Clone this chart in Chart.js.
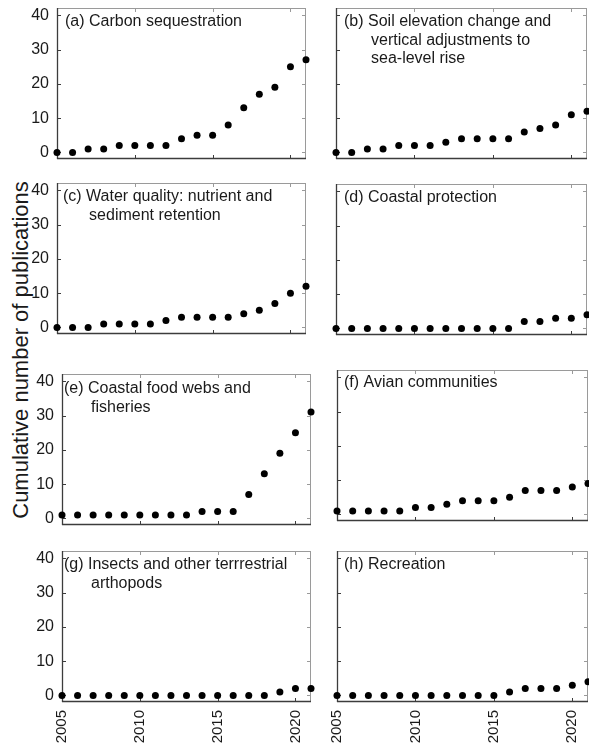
<!DOCTYPE html>
<html>
<head>
<meta charset="utf-8">
<script src="https://cdn.jsdelivr.net/npm/chart.js@4.4.1/dist/chart.umd.min.js"></script>
<style>
  html, body { margin: 0; padding: 0; background: #fff; width: 589px; height: 751px; overflow: hidden; }
  .panel { position: absolute; }
  #ytitle {
    position: absolute; left: 21px; top: 350px;
    transform: translate(-50%, -50%) rotate(-90deg);
    font: 22px "Liberation Sans", Arial, sans-serif; color: #1a1a1a;
    white-space: nowrap; line-height: 1;
  }
</style>
</head>
<body>
<div id="ytitle">Cumulative number of publications</div>
<script>
// data
const years = [2005, 2006, 2007, 2008, 2009, 2010, 2011, 2012, 2013, 2014, 2015, 2016, 2017, 2018, 2019, 2020, 2021];
const yearTicks = [2005, 2010, 2015, 2020];
const countTicks = [0, 10, 20, 30, 40];

const carbon     = [0, 0, 1, 1, 2, 2, 2, 2, 4, 5, 5, 8, 13, 17, 19, 25, 27];
const soil       = [0, 0, 1, 1, 2, 2, 2, 3, 4, 4, 4, 4, 6, 7, 8, 11, 12];
const water      = [0, 0, 0, 1, 1, 1, 1, 2, 3, 3, 3, 3, 4, 5, 7, 10, 12];
const protection = [0, 0, 0, 0, 0, 0, 0, 0, 0, 0, 0, 0, 2, 2, 3, 3, 4];
const foodWebs   = [1, 1, 1, 1, 1, 1, 1, 1, 1, 2, 2, 2, 7, 13, 19, 25, 31];
const avian      = [1, 1, 1, 1, 1, 2, 2, 3, 4, 4, 4, 5, 7, 7, 7, 8, 9];
const insects    = [0, 0, 0, 0, 0, 0, 0, 0, 0, 0, 0, 0, 0, 0, 1, 2, 2];
const recreation = [0, 0, 0, 0, 0, 0, 0, 0, 0, 0, 0, 1, 2, 2, 2, 3, 4];

const titleA = ['(a) Carbon sequestration'];
const titleB = ['(b) Soil elevation change and', 'vertical adjustments to', 'sea-level rise'];
const titleC = ['(c) Water quality: nutrient and', 'sediment retention'];
const titleD = ['(d) Coastal protection'];
const titleE = ['(e) Coastal food webs and', 'fisheries'];
const titleF = ['(f) Avian communities'];
const titleG = ['(g) Insects and other terrrestrial', 'arthopods'];
const titleH = ['(h) Recreation'];

const FONT = '"Liberation Sans", Arial, sans-serif';
const PAD = 6;
const AXW = 30;   // room for y tick labels (left column)
const AXH = 44;   // room for rotated year labels (bottom row)
const PH = 151;   // plot height

// layout of the panels
const panels = [
  { values: carbon,     title: titleA, left: 57,  top: 8,   width: 249, tx: 8, ty: 14, yLab: true,  xLab: false },
  { values: soil,       title: titleB, left: 336, top: 8,   width: 251, tx: 8, ty: 14, yLab: false, xLab: false },
  { values: water,      title: titleC, left: 57,  top: 183, width: 249, tx: 6, ty: 14, yLab: true,  xLab: false },
  { values: protection, title: titleD, left: 336, top: 184, width: 251, tx: 8, ty: 14, yLab: false, xLab: false },
  { values: foodWebs,   title: titleE, left: 62,  top: 374, width: 249, tx: 2, ty: 15, yLab: true,  xLab: false },
  { values: avian,      title: titleF, left: 337, top: 370, width: 251, tx: 7, ty: 13, yLab: false, xLab: false },
  { values: insects,    title: titleG, left: 62,  top: 551, width: 249, tx: 2, ty: 14, yLab: true,  xLab: true },
  { values: recreation, title: titleH, left: 337, top: 551, width: 251, tx: 7, ty: 14, yLab: false, xLab: true }
];

// box, inward ticks and panel label
const framePlugin = {
  id: 'frame',
  beforeDatasetsDraw(chart, args, opts) {
    const { ctx, chartArea: a, scales: { x, y } } = chart;
    ctx.save();
    ctx.lineWidth = 1;

    ctx.strokeStyle = '#9a9a9a';
    ctx.beginPath();
    ctx.moveTo(a.left, a.top + 0.5); ctx.lineTo(a.right, a.top + 0.5);
    ctx.moveTo(a.right - 0.5, a.top); ctx.lineTo(a.right - 0.5, a.bottom);
    countTicks.forEach(v => {
      const py = Math.round(y.getPixelForValue(v)) + 0.5;
      ctx.moveTo(a.right, py); ctx.lineTo(a.right - 4, py);
    });
    yearTicks.forEach(v => {
      const px = Math.round(x.getPixelForValue(v)) + 0.5;
      ctx.moveTo(px, a.top); ctx.lineTo(px, a.top + 4);
    });
    ctx.stroke();

    ctx.strokeStyle = '#3c3c3c';
    ctx.lineWidth = 1.3;
    ctx.beginPath();
    ctx.moveTo(a.left + 0.5, a.top); ctx.lineTo(a.left + 0.5, a.bottom);
    ctx.moveTo(a.left, a.bottom - 0.5); ctx.lineTo(a.right, a.bottom - 0.5);
    ctx.stroke();
    ctx.lineWidth = 1;
    ctx.beginPath();
    countTicks.forEach(v => {
      const py = Math.round(y.getPixelForValue(v)) + 0.5;
      ctx.moveTo(a.left, py); ctx.lineTo(a.left + 4, py);
    });
    yearTicks.forEach(v => {
      const px = Math.round(x.getPixelForValue(v)) + 0.5;
      ctx.moveTo(px, a.bottom); ctx.lineTo(px, a.bottom - 4);
    });
    ctx.stroke();

    // panel label
    ctx.fillStyle = '#1a1a1a';
    ctx.font = '16px ' + FONT;
    ctx.textBaseline = 'middle';
    ctx.textAlign = 'left';
    const lines = opts.lines;
    const prefix = lines[0].slice(0, lines[0].indexOf(')') + 2);
    const indent = ctx.measureText(prefix).width + 3;
    lines.forEach((t, i) => {
      ctx.fillText(t, a.left + opts.tx + (i ? indent : 0), a.top + opts.ty + i * 18.3);
    });
    ctx.restore();
  }
};

// no extra room for labels hanging past the plot edges
function noPadding(s) {
  s.paddingTop = 0;
  s.paddingBottom = 0;
  s.paddingLeft = 0;
  s.paddingRight = 0;
}

panels.forEach(p => {
  const axW = p.yLab ? AXW : 0;
  const axH = p.xLab ? AXH : 0;
  const div = document.createElement('div');
  div.className = 'panel';
  div.style.left = (p.left - axW - PAD) + 'px';
  div.style.top = (p.top - PAD) + 'px';
  const canvas = document.createElement('canvas');
  canvas.width = p.width + axW + 2 * PAD;
  canvas.height = PH + axH + 2 * PAD;
  div.appendChild(canvas);
  document.body.appendChild(div);

  new Chart(canvas, {
    type: 'scatter',
    data: {
      datasets: [{
        data: years.map((yr, i) => ({ x: yr, y: p.values[i] })),
        backgroundColor: '#000',
        borderColor: '#000',
        borderWidth: 0,
        pointRadius: 3.5,
        pointHoverRadius: 3.5,
        clip: false
      }]
    },
    options: {
      responsive: false,
      animation: false,
      events: [],
      layout: { padding: PAD },
      plugins: {
        legend: { display: false },
        tooltip: { enabled: false },
        frame: { lines: p.title, tx: p.tx, ty: p.ty }
      },
      scales: {
        x: {
          type: 'linear',
          min: 2005,
          max: 2021,
          grid: { display: false, drawTicks: false },
          border: { display: false },
          afterBuildTicks: s => { s.ticks = yearTicks.map(v => ({ value: v })); },
          afterFit: s => { s.height = axH; noPadding(s); },
          ticks: {
            display: p.xLab,
            minRotation: 90,
            maxRotation: 90,
            padding: 8,
            color: '#1a1a1a',
            font: { size: 15, family: FONT },
            callback: v => String(v)
          }
        },
        y: {
          min: -1.9,
          max: 42.1,
          grid: { display: false, drawTicks: false },
          border: { display: false },
          afterBuildTicks: s => { s.ticks = countTicks.map(v => ({ value: v })); },
          afterFit: s => { s.width = axW; noPadding(s); },
          ticks: {
            display: p.yLab,
            padding: 8,
            color: '#1a1a1a',
            font: { size: 16, family: FONT },
            callback: v => String(v)
          }
        }
      }
    },
    plugins: [framePlugin]
  });
});
</script>
</body>
</html>
